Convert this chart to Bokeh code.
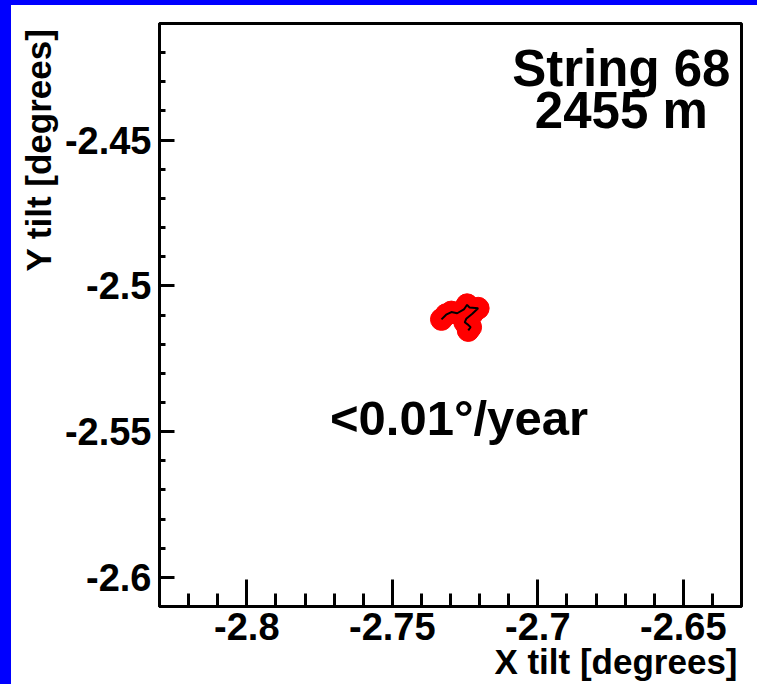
import numpy as np
from bokeh.plotting import figure
from bokeh.models import FixedTicker, Label, Range1d, Spacer, Title
from bokeh.layouts import column, row
from bokeh.embed import file_html
from bokeh.resources import INLINE

# ---- data ----
x_tilt = [-2.7331, -2.7315, -2.7297, -2.7277, -2.7254, -2.7243, -2.7235,
          -2.7205, -2.7225, -2.7246, -2.7251, -2.7239, -2.7231, -2.7239]
y_tilt = [-2.5115, -2.5099, -2.5090, -2.5094, -2.5081, -2.5065, -2.5074,
          -2.5077, -2.5096, -2.5113, -2.5125, -2.5134, -2.5142, -2.5153]

x_ticks = [-2.8, -2.75, -2.7, -2.65]
x_tick_labels = ["-2.8", "-2.75", "-2.7", "-2.65"]
y_ticks = [-2.6, -2.55, -2.5, -2.45]
y_tick_labels = ["-2.6", "-2.55", "-2.5", "-2.45"]

title_lines = ["String 68", "2455 m"]
rate_text = "<0.01°/year"
x_title = "X tilt [degrees]"
y_title = "Y tilt [degrees]"

FONT = "Liberation Sans"

p = figure(width=746, height=679, output_backend="svg", toolbar_location=None,
           x_range=Range1d(-2.83, -2.63), y_range=Range1d(-2.61, -2.41),
           min_border_left=148, min_border_right=16, min_border_top=18,
           min_border_bottom=78)
p.background_fill_color = "white"
p.border_fill_color = "white"
p.outline_line_color = "black"
p.outline_line_width = 3
p.grid.visible = False

x_minor = [round(v, 2) for v in np.arange(-2.83, -2.625, 0.01)]
y_minor = [round(v, 2) for v in np.arange(-2.61, -2.405, 0.01)]

p.xaxis.ticker = FixedTicker(ticks=x_ticks, minor_ticks=x_minor)
p.yaxis.ticker = FixedTicker(ticks=y_ticks, minor_ticks=y_minor)
p.xaxis.major_label_overrides = dict(zip(x_ticks, x_tick_labels))
p.yaxis.major_label_overrides = dict(zip(y_ticks, y_tick_labels))

for ax in (p.xaxis, p.yaxis):
    ax.axis_line_color = "black"
    ax.axis_line_width = 3
    ax.major_tick_line_color = "black"
    ax.minor_tick_line_color = "black"
    ax.major_tick_line_width = 3
    ax.minor_tick_line_width = 3
    ax.major_tick_out = 0
    ax.minor_tick_out = 0
    ax.major_label_text_font = FONT
    ax.major_label_text_font_style = "bold"
    ax.major_label_text_font_size = "38px"
    ax.major_label_text_color = "black"

p.xaxis.major_tick_in = 27
p.xaxis.minor_tick_in = 13
p.yaxis.major_tick_in = 15
p.yaxis.minor_tick_in = 6
p.xaxis.major_label_standoff = 6
p.yaxis.major_label_standoff = 8

# axis titles as side-panel titles (right aligned like the reference)
p.add_layout(Title(text=x_title, align="right", vertical_align="top", offset=4,
                   standoff=-2, text_font=FONT, text_font_style="bold",
                   text_font_size="35px", text_color="black"), "below")
p.add_layout(Title(text=y_title, align="right", vertical_align="bottom", offset=5,
                   standoff=8, text_font=FONT, text_font_style="bold",
                   text_font_size="35px", text_color="black"), "left")

# data
p.scatter(x_tilt, y_tilt, size=22, color="red", line_color="red")
p.line(x_tilt, y_tilt, line_color="black", line_width=2)

# texts inside
p.add_layout(Label(x=-2.6713, y=-2.4255, text=title_lines[0], text_align="center",
                   text_baseline="alphabetic", text_font=FONT, text_font_style="bold",
                   text_font_size="51px", text_color="black"))
p.add_layout(Label(x=-2.6713, y=-2.4399, text=title_lines[1], text_align="center",
                   text_baseline="alphabetic", text_font=FONT, text_font_style="bold",
                   text_font_size="51px", text_color="black"))
p.add_layout(Label(x=-2.7271, y=-2.5454, text=rate_text, text_align="center",
                   text_baseline="alphabetic", text_font=FONT, text_font_style="bold",
                   text_font_size="49px", text_color="black"))

blue = {"background-color": "#0000ff"}
layout = column(
    Spacer(width=757, height=5, styles=blue),
    row(Spacer(width=11, height=679, styles=blue), p, spacing=0),
    spacing=0,
)

open("out.html", "w").write(file_html(layout, INLINE))
